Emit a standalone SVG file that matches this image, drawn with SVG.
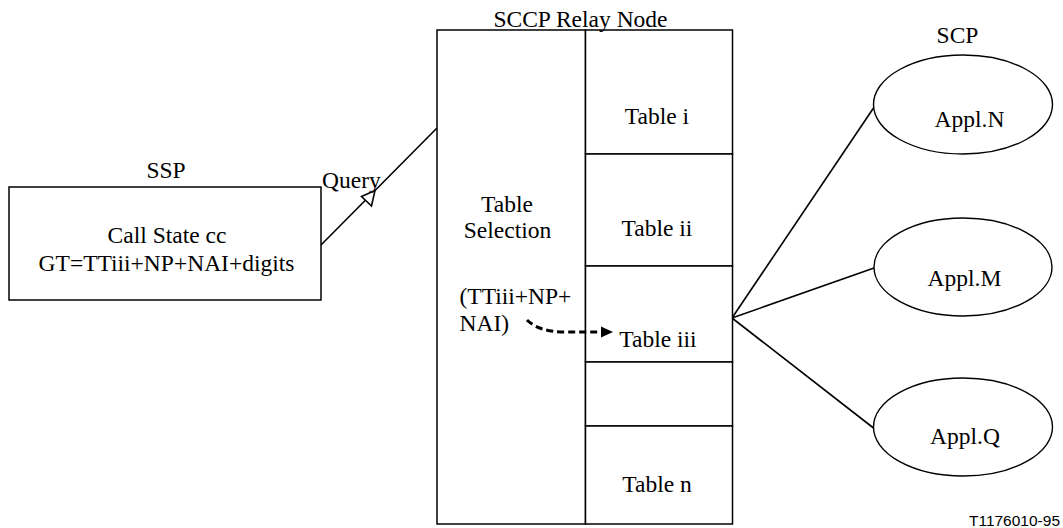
<svg xmlns="http://www.w3.org/2000/svg" width="1063" height="528" viewBox="0 0 1063 528">
  <style>
    .box { fill: #fff; stroke: #000; stroke-width: 1.5; }
    .ell { fill: #fff; stroke: #000; stroke-width: 1.4; }
    .t { font-family: "Liberation Serif", "Times New Roman", serif; font-size: 23.5px; fill: #000; }
    .c { text-anchor: middle; }
    .link { stroke: #000; stroke-width: 1.6; fill: none; }
    .lookup { stroke: #000; stroke-width: 3; fill: none; stroke-dasharray: 7 4; }
    .ref { font-family: "Liberation Sans", Arial, sans-serif; font-size: 15.5px; fill: #000; }
  </style>
  <rect width="1063" height="528" fill="#fff"/>

  <!-- connectors -->
  <g id="connectors">
    <line class="link" x1="321" y1="245" x2="437" y2="128"/>
    <polygon points="375,190.5 361.5,196.5 371.5,206" fill="#fff" stroke="#000" stroke-width="1.6"/>
    <line class="link" x1="732" y1="318" x2="873.5" y2="108"/>
    <line class="link" x1="732" y1="318" x2="874" y2="268"/>
    <line class="link" x1="732" y1="318" x2="873.5" y2="428"/>
  </g>

  <!-- SSP -->
  <g id="ssp">
    <text class="t c" x="166" y="178">SSP</text>
    <rect class="box" x="9" y="187" width="312" height="113"/>
    <text class="t c" x="167" y="243">Call State cc</text>
    <text class="t c" x="166.5" y="271">GT=TTiii+NP+NAI+digits</text>
    <text class="t" x="322" y="188">Query</text>
  </g>

  <!-- SCCP relay node -->
  <g id="sccp">
    <rect class="box" x="437" y="30" width="148.5" height="494"/>
    <rect class="box" x="585.5" y="30" width="147" height="124"/>
    <rect class="box" x="585.5" y="154" width="147" height="112"/>
    <rect class="box" x="585.5" y="266" width="147" height="96"/>
    <rect class="box" x="585.5" y="362" width="147" height="64"/>
    <rect class="box" x="585.5" y="426" width="147" height="98"/>
    <text class="t c" x="580.5" y="27">SCCP Relay Node</text>
    <text class="t c" x="507" y="212">Table</text>
    <text class="t c" x="507.5" y="238">Selection</text>
    <text class="t" x="459.5" y="304">(TTiii+NP+</text>
    <text class="t" x="459.5" y="331">NAI)</text>
    <text class="t c" x="657" y="124">Table i</text>
    <text class="t c" x="657" y="236">Table ii</text>
    <text class="t c" x="658" y="347">Table iii</text>
    <text class="t c" x="657" y="492">Table n</text>
  </g>

  <!-- selection lookup -->
  <g id="lookup">
    <path class="lookup" d="M527,320 C535,328 548,332 565,332 L603,332"/>
    <polygon points="601,326.5 613,332 601,337.5" fill="#000"/>
  </g>

  <!-- SCP applications -->
  <g id="scp">
    <text class="t c" x="957.5" y="43">SCP</text>
    <ellipse class="ell" cx="963" cy="104.5" rx="89.5" ry="49.5"/>
    <text class="t c" x="969.5" y="127">Appl.N</text>
  </g>
  <g id="appl-m">
    <ellipse class="ell" cx="963" cy="267" rx="89" ry="49"/>
    <text class="t c" x="964.5" y="286">Appl.M</text>
  </g>
  <g id="appl-q">
    <ellipse class="ell" cx="963" cy="427" rx="89.5" ry="49"/>
    <text class="t c" x="965" y="444">Appl.Q</text>
  </g>

  <text class="ref" x="1060" y="525.5" text-anchor="end">T1176010-95</text>
</svg>
